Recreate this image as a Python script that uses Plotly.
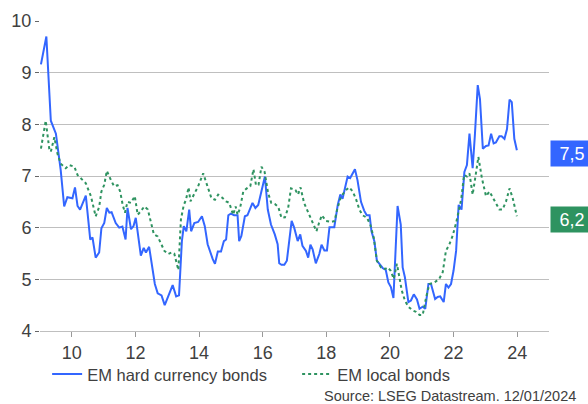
import plotly.graph_objects as go

# EM hard currency bonds (yield, %), decimal years
hard_x = [2009.03, 2009.20, 2009.34, 2009.50, 2009.65, 2009.76, 2009.86, 2010.02, 2010.10, 2010.18,
          2010.26, 2010.44, 2010.58, 2010.65, 2010.75, 2010.86, 2010.93, 2011.02, 2011.10, 2011.18,
          2011.25, 2011.38, 2011.49, 2011.59, 2011.69, 2011.75, 2011.86, 2011.94, 2012.01, 2012.17,
          2012.26, 2012.33, 2012.43, 2012.54, 2012.61, 2012.70, 2012.82, 2012.92, 2013.17, 2013.28,
          2013.37, 2013.46, 2013.52, 2013.60, 2013.69, 2013.75, 2013.85, 2013.97, 2014.09, 2014.18,
          2014.27, 2014.43, 2014.50, 2014.59, 2014.69, 2014.78, 2014.85, 2014.92, 2015.00, 2015.10,
          2015.21, 2015.26, 2015.33, 2015.44, 2015.52, 2015.68, 2015.77, 2015.86, 2015.97, 2016.07,
          2016.16, 2016.26, 2016.38, 2016.47, 2016.52, 2016.59, 2016.68, 2016.76, 2016.91, 2016.99,
          2017.10, 2017.18, 2017.25, 2017.36, 2017.43, 2017.50, 2017.57, 2017.67, 2017.78, 2017.85,
          2017.94, 2018.02, 2018.10, 2018.25, 2018.36, 2018.44, 2018.51, 2018.67, 2018.75, 2018.90,
          2018.98, 2019.09, 2019.19, 2019.27, 2019.36, 2019.42, 2019.51, 2019.59, 2019.67, 2019.77,
          2019.87, 2019.95, 2020.03, 2020.11, 2020.24, 2020.34, 2020.40, 2020.47, 2020.58, 2020.66,
          2020.75, 2020.85, 2020.93, 2021.03, 2021.11, 2021.21, 2021.29, 2021.42, 2021.50, 2021.58,
          2021.69, 2021.76, 2021.84, 2021.92, 2022.00, 2022.08, 2022.16, 2022.25, 2022.34, 2022.42,
          2022.50, 2022.60, 2022.67, 2022.76, 2022.83, 2022.92, 2023.02, 2023.10, 2023.18, 2023.26,
          2023.33, 2023.44, 2023.51, 2023.60, 2023.68, 2023.76, 2023.83, 2023.91, 2023.99]
hard_y = [9.16, 9.70, 8.07, 7.82, 7.12, 6.41, 6.59, 6.57, 6.78, 6.42,
          6.35, 6.62, 5.77, 5.81, 5.42, 5.52, 5.99, 6.09, 6.38, 6.29,
          6.30, 6.09, 6.00, 6.02, 5.77, 6.38, 5.97, 6.03, 6.19, 5.46,
          5.61, 5.52, 5.63, 5.17, 4.91, 4.73, 4.69, 4.50, 4.89, 4.67,
          4.69, 5.74, 6.03, 5.93, 6.35, 5.93, 6.09, 6.11, 6.22, 6.03,
          5.68, 5.39, 5.30, 5.54, 5.54, 5.74, 5.77, 6.24, 6.27, 6.24,
          6.24, 5.74, 5.84, 6.22, 6.24, 6.48, 6.38, 6.44, 6.70, 6.99,
          6.35, 6.06, 5.87, 5.68, 5.31, 5.28, 5.28, 5.36, 6.13, 6.00,
          5.74, 5.87, 5.65, 5.55, 5.42, 5.67, 5.58, 5.31, 5.49, 5.67,
          5.56, 5.56, 6.01, 6.01, 6.44, 6.64, 6.56, 6.99, 6.96, 7.13,
          6.92, 6.50, 6.33, 6.24, 6.24, 5.93, 5.74, 5.36, 5.30, 5.22,
          5.18, 4.94, 4.85, 4.64, 6.42, 6.06, 5.23, 5.04, 4.56, 4.59,
          4.71, 4.61, 4.43, 4.47, 4.43, 4.91, 4.91, 4.62, 4.66, 4.67,
          4.56, 4.91, 4.84, 4.91, 5.17, 5.55, 6.44, 6.35, 7.08, 7.21,
          7.82, 7.15, 7.79, 8.76, 8.49, 7.53, 7.58, 7.59, 7.82, 7.63,
          7.65, 7.77, 7.77, 7.72, 7.91, 8.48, 8.43, 7.72, 7.50]

# EM local bonds (yield, %), decimal years
local_x = [2009.03, 2009.18, 2009.29, 2009.34, 2009.45, 2009.55, 2009.65, 2009.81, 2009.92, 2010.08,
           2010.18, 2010.28, 2010.44, 2010.60, 2010.75, 2010.86, 2010.93, 2011.02, 2011.10, 2011.23,
           2011.33, 2011.44, 2011.52, 2011.60, 2011.67, 2011.75, 2011.86, 2011.98, 2012.07, 2012.17,
           2012.28, 2012.39, 2012.47, 2012.58, 2012.70, 2012.80, 2012.91, 2013.03, 2013.14, 2013.22,
           2013.27, 2013.35, 2013.43, 2013.52, 2013.59, 2013.67, 2013.73, 2013.84, 2013.97, 2014.13,
           2014.26, 2014.39, 2014.50, 2014.60, 2014.71, 2014.85, 2014.95, 2015.07, 2015.15, 2015.21,
           2015.29, 2015.39, 2015.50, 2015.61, 2015.71, 2015.79, 2015.87, 2015.96, 2016.06, 2016.17,
           2016.27, 2016.38, 2016.49, 2016.59, 2016.70, 2016.80, 2016.89, 2017.03, 2017.11, 2017.19,
           2017.30, 2017.41, 2017.53, 2017.69, 2017.77, 2017.86, 2017.99, 2018.15, 2018.26, 2018.34,
           2018.46, 2018.62, 2018.72, 2018.83, 2018.93, 2019.04, 2019.14, 2019.28, 2019.38, 2019.49,
           2019.59, 2019.72, 2019.85, 2019.93, 2020.02, 2020.12, 2020.22, 2020.30, 2020.37, 2020.47,
           2020.58, 2020.71, 2020.82, 2020.93, 2021.03, 2021.14, 2021.24, 2021.40, 2021.55, 2021.66,
           2021.76, 2021.87, 2021.97, 2022.08, 2022.19, 2022.24, 2022.33, 2022.42, 2022.50, 2022.60,
           2022.71, 2022.78, 2022.89, 2023.02, 2023.13, 2023.29, 2023.44, 2023.54, 2023.65, 2023.76,
           2023.86, 2023.99]
local_y = [7.53, 8.07, 7.53, 7.47, 7.75, 7.43, 7.24, 7.15, 7.21, 7.18,
           7.02, 6.96, 6.86, 6.61, 6.22, 6.40, 6.70, 6.83, 7.10, 6.92,
           6.80, 6.82, 6.70, 6.44, 6.29, 6.50, 6.48, 6.61, 6.25, 6.32,
           6.41, 6.35, 6.13, 5.87, 5.83, 5.70, 5.55, 5.49, 5.52, 5.50,
           5.36, 5.18, 6.16, 6.44, 6.54, 6.78, 6.51, 6.64, 6.80, 7.05,
           6.83, 6.57, 6.54, 6.64, 6.59, 6.51, 6.48, 6.25, 6.41, 6.25,
           6.38, 6.70, 6.76, 6.80, 7.13, 6.82, 6.83, 7.18, 7.08, 6.67,
           6.48, 6.46, 6.40, 6.19, 6.20, 6.38, 6.76, 6.73, 6.64, 6.78,
           6.48, 6.32, 6.13, 5.93, 6.09, 6.24, 6.13, 6.11, 6.13, 6.35,
           6.60, 6.73, 6.78, 6.70, 6.56, 6.35, 6.24, 6.19, 6.06, 5.81,
           5.36, 5.23, 5.20, 5.23, 5.17, 5.01, 5.30, 5.05, 4.79, 4.59,
           4.47, 4.40, 4.37, 4.31, 4.31, 4.66, 4.91, 4.94, 5.01, 5.14,
           5.55, 5.68, 5.84, 6.09, 6.41, 6.55, 7.02, 6.99, 7.05, 6.64,
           7.08, 7.37, 6.96, 6.61, 6.70, 6.51, 6.35, 6.35, 6.51, 6.76,
           6.57, 6.22]

tick_vals = [2010, 2012, 2014, 2016, 2018, 2020, 2022, 2024]
tick_text = ["10", "12", "14", "16", "18", "20", "22", "24"]
series_names = ["EM hard currency bonds", "EM local bonds"]
source_text = "Source: LSEG Datastream. 12/01/2024"

BLUE = "#3366FF"
GREEN = "#2E9360"
TXT = "#404040"
GRID = "#BFBFBF"
FONT = "Liberation Sans, Arial, sans-serif"

fig = go.Figure()
fig.add_trace(go.Scatter(x=hard_x, y=hard_y, mode="lines", name=series_names[0],
                         line=dict(color=BLUE, width=2)))
fig.add_trace(go.Scatter(x=local_x, y=local_y, mode="lines", name=series_names[1],
                         line=dict(color=GREEN, width=2, dash="dot")))

def fmt(v):
    return f"{v:.1f}".replace(".", ",")

for yv, col in [(hard_y[-1], BLUE), (local_y[-1], GREEN)]:
    fig.add_annotation(xref="paper", yref="y", x=1, y=yv, xanchor="left", yanchor="middle",
                       xshift=1, yshift=-3, text=fmt(yv), showarrow=False, bgcolor=col,
                       width=38, height=21, borderpad=2,
                       font=dict(family=FONT, size=18, color="white"))

fig.add_annotation(xref="paper", yref="paper", x=1.057, y=-0.21, xanchor="right",
                   yanchor="middle", text=source_text, showarrow=False,
                   font=dict(family=FONT, size=14.5, color=TXT))

fig.update_layout(
    width=588, height=404,
    margin=dict(l=40, r=39, t=21, b=70),
    paper_bgcolor="white", plot_bgcolor="white",
    font=dict(family=FONT, color=TXT),
    showlegend=True,
    legend=dict(orientation="h", x=0.014, xanchor="left", y=-0.14, yanchor="middle",
                font=dict(family=FONT, size=16.5, color=TXT),
                entrywidth=205, entrywidthmode="pixels",
                bgcolor="rgba(0,0,0,0)"),
    xaxis=dict(range=[2009, 2025], tickvals=tick_vals, ticktext=tick_text,
               showgrid=False, zeroline=False, showline=True, linecolor=GRID, linewidth=1,
               ticks="outside", ticklen=5, tickcolor="#999999",
               tickfont=dict(family=FONT, size=18, color=TXT)),
    yaxis=dict(range=[4, 10], dtick=1, showgrid=True, gridcolor=GRID, gridwidth=1,
               zeroline=False, showline=False, ticks="outside", ticklen=4,
               tickcolor="#666666", tickfont=dict(family=FONT, size=18, color=TXT)),
)

fig.write_html("out.html", config={"displayModeBar": False},
               post_script="document.body.style.margin='0';document.body.style.overflow='hidden';")
